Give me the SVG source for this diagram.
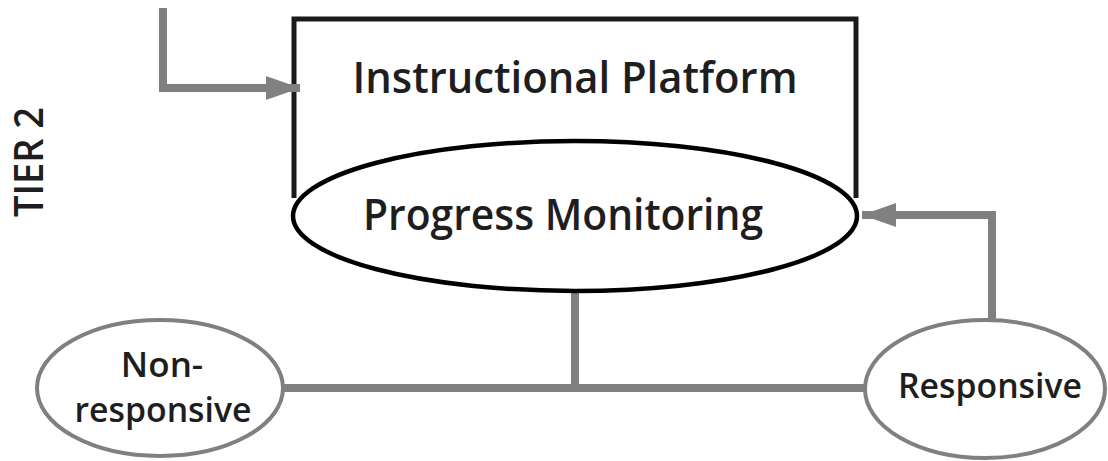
<svg xmlns="http://www.w3.org/2000/svg" width="1108" height="461" viewBox="0 0 1108 461">
<style>
text{font-family:"Open Sans","DejaVu Sans",sans-serif;font-weight:600;fill:#1e1e1e;text-anchor:middle}
.conn{stroke:#808080;stroke-width:8;fill:none}
.gray{fill:#fff;stroke:#808080;stroke-width:4}
</style>
<defs>
<marker id="ah" markerUnits="userSpaceOnUse" markerWidth="34" markerHeight="24" refX="34" refY="12" orient="auto">
<path d="M0,0 L34,12 L0,24 Z" fill="#808080"/>
</marker>
</defs>
<rect width="1108" height="461" fill="#fff"/>
<g id="platform">
<path d="M294,198 V19 H856 V198" fill="none" stroke="#1a1a1a" stroke-width="5"/>
<text x="575" y="93" font-size="43" textLength="445" lengthAdjust="spacingAndGlyphs">Instructional Platform</text>
</g>
<g id="connectors">
<path class="conn" d="M163,8 V88 H300" marker-end="url(#ah)"/>
<path class="conn" d="M992,322 V215 H862" marker-end="url(#ah)"/>
<path class="conn" d="M575,292 V388"/>
<path class="conn" d="M284,388 H866"/>
</g>
<g id="progress">
<ellipse cx="575" cy="216" rx="282" ry="75" fill="#fff" stroke="#000" stroke-width="4.5"/>
<text x="563" y="230" font-size="43" textLength="400" lengthAdjust="spacingAndGlyphs">Progress Monitoring</text>
</g>
<g id="nonresponsive">
<ellipse class="gray" cx="160" cy="388" rx="123" ry="68"/>
<text x="162" y="377" font-size="35">Non-</text>
<text x="163" y="422" font-size="35" textLength="177" lengthAdjust="spacingAndGlyphs">responsive</text>
</g>
<g id="responsive">
<ellipse class="gray" cx="985" cy="389" rx="120" ry="69"/>
<text x="990" y="398" font-size="35" textLength="184" lengthAdjust="spacingAndGlyphs">Responsive</text>
</g>
<g id="tier">
<text transform="translate(43,162) rotate(-90)" font-size="40" font-weight="700" textLength="110" lengthAdjust="spacingAndGlyphs">TIER 2</text>
</g>
</svg>
